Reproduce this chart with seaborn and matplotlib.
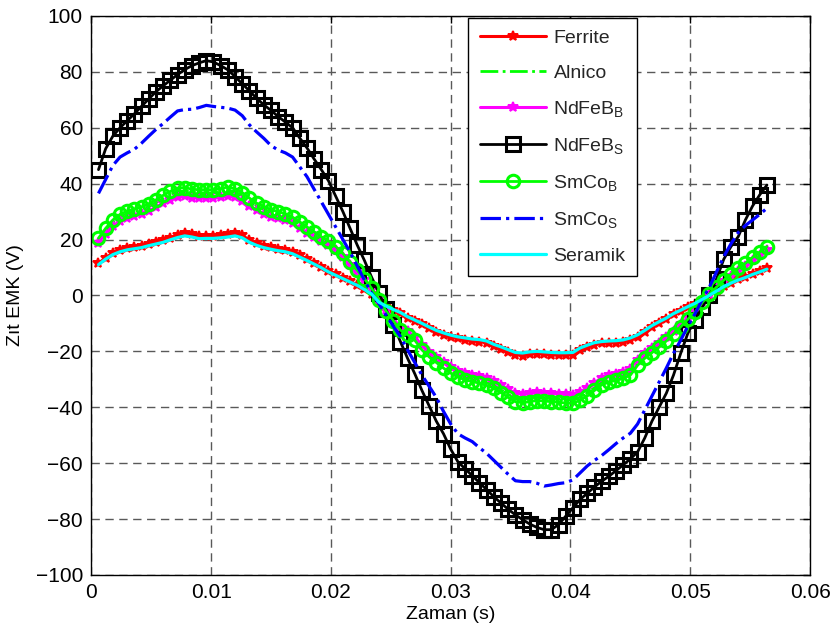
import numpy as np
import pandas as pd
import matplotlib
matplotlib.use("Agg")
import matplotlib.pyplot as plt
import seaborn as sns

# ---------------- data ----------------
time_s = np.linspace(0.0006, 0.0564, 94)

ferrite = [11.5, 13.5, 15.2, 16.3, 17, 17.4, 17.8, 18.5, 19.2, 19.8,
           20.7, 21.6, 22.2, 21.8, 21.1, 21.2, 21.3, 21.5, 21.8, 22.2,
           21.5, 19.8, 18.6, 17.8, 17.2, 16.7, 16.3, 15.5, 14.3, 13,
           11.7, 10.3, 8.8, 7.5, 6.2, 5, 3.8, 2.2, 0.5, -2.5,
           -4, -5.2, -6.4, -7.9, -9.2, -10.4, -11.8, -13, -14, -14.8,
           -15.4, -15.8, -16.2, -16.5, -17, -18.2, -19.2, -20.2, -21.2, -21.5,
           -21, -20.8, -21, -21.3, -21.4, -21.4, -21.2, -19.6, -18.5, -17.6,
           -17.2, -17, -16.9, -16.6, -15.8, -14.7, -13, -11.3, -9.8, -8.4,
           -6.8, -5.5, -4.2, -2.9, -1.5, 0, 1.7, 3.3, 4.6, 5.7,
           6.7, 7.8, 8.8, 9.8]

alnico = [19.9, 23.3, 26.2, 28.1, 29.3, 30.1, 30.7, 31.8, 33.2, 34.7,
          36.1, 37.2, 37.4, 36.9, 36.7, 36.7, 36.7, 37.1, 37.6, 37.1,
          35.7, 33.8, 32, 30.8, 29.8, 29.1, 28.3, 27.2, 25.5, 23.8,
          22.1, 20.4, 18.9, 17, 14.6, 11.6, 8.7, 5.8, 2.4, -1.5,
          -5.3, -8.7, -12, -13.6, -15.5, -18.9, -21.3, -23.3, -25.2, -27,
          -28.3, -29.3, -29.9, -30.5, -31.2, -32.2, -33.8, -35.4, -36.9, -37.2,
          -36.9, -36.5, -36.7, -36.9, -37.1, -37.3, -37.4, -36.4, -34.9, -33,
          -31, -30.1, -29.5, -28.8, -27.6, -24.3, -21.8, -19.9, -17.9, -15.8,
          -13.4, -10.9, -8.2, -5.8, -2.4, 0.5, 2.9, 5.3, 7.3, 9.4,
          11.2, 13.2, 15, 17]

ndfeb_b = [18.9, 22.1, 24.8, 26.7, 27.8, 28.5, 29.2, 30.2, 31.5, 32.9,
           34.2, 35.3, 35.5, 35, 34.8, 34.8, 34.8, 35.1, 35.7, 35.1,
           33.9, 32, 30.4, 29.3, 28.2, 27.6, 26.9, 25.8, 24.2, 22.5,
           21, 19.3, 17.9, 16.1, 13.8, 11, 8.3, 5.5, 2.3, -1.4,
           -5.1, -8.3, -11.4, -12.9, -14.7, -17.9, -20.2, -22.1, -23.9, -25.6,
           -26.9, -27.8, -28.3, -28.9, -29.6, -30.5, -32, -33.6, -35, -35.3,
           -35, -34.6, -34.8, -35, -35.1, -35.4, -35.5, -34.5, -33.1, -31.3,
           -29.4, -28.5, -28, -27.3, -26.2, -23, -20.7, -18.9, -17, -15,
           -12.7, -10.3, -7.8, -5.5, -2.3, 0.5, 2.8, 5.1, 6.9, 8.9,
           10.6, 12.5, 14.3, 16.1]

ndfeb_s = [45, 52.5, 57, 60, 62.5, 65, 67.7, 70.3, 72.9, 75,
           77, 79, 80.8, 82.2, 83.2, 84, 83.5, 82.2, 80.7, 78.3,
           75.7, 73.2, 70.5, 68.2, 66.2, 64, 62, 60, 56.3, 52.8,
           48.8, 45, 41, 35.5, 30, 24, 18, 12.5, 6.5, 1,
           -5, -10.5, -16.5, -22.5, -28, -34, -39.5, -45, -49.5, -55,
           -59.5, -62, -64.5, -67, -69.5, -72, -74.3, -76.5, -78.5, -80.2,
           -81.8, -83, -83.8, -83.8, -82, -79, -76, -73, -70.8, -68.5,
           -66.5, -64.7, -62.7, -60.6, -58.5, -56, -51, -45, -40, -35,
           -28.5, -20.7, -13.5, -8.8, -4.2, 0.2, 6, 13, 17.5, 21,
           27, 32, 36, 39.5]

smco_b = [20.5, 24, 27, 29, 30.2, 31, 31.7, 32.8, 34.2, 35.8,
          37.2, 38.4, 38.6, 38, 37.8, 37.8, 37.8, 38.2, 38.8, 38.2,
          36.8, 34.8, 33, 31.8, 30.7, 30, 29.2, 28, 26.3, 24.5,
          22.8, 21, 19.5, 17.5, 15, 12, 9, 6, 2.5, -1.5,
          -5.5, -9, -12.4, -14, -16, -19.5, -22, -24, -26, -27.8,
          -29.2, -30.2, -30.8, -31.4, -32.2, -33.2, -34.8, -36.5, -38, -38.4,
          -38, -37.6, -37.8, -38, -38.2, -38.5, -38.6, -37.5, -36, -34,
          -32, -31, -30.4, -29.7, -28.5, -25, -22.5, -20.5, -18.5, -16.3,
          -13.8, -11.2, -8.5, -6, -2.5, 0.5, 3, 5.5, 7.5, 9.7,
          11.5, 13.6, 15.5, 17.5]

smco_s = [36.5, 41.5, 46.5, 49.5, 51, 52.3, 54.5, 57, 59.4, 61.5,
          63.8, 66, 66.5, 66.6, 67.2, 68, 67.6, 67.3, 67, 66.3,
          64.3, 61, 58.5, 56.2, 53.6, 52, 51, 49.5, 46, 42.5,
          38, 33.5, 29, 24.5, 20, 15.5, 10.5, 5.5, 0.8, -2.8,
          -7, -11, -14.7, -19.5, -24, -28.5, -32.5, -36.5, -41.5, -46,
          -49.5, -51, -52.3, -54.5, -56.5, -59, -61.5, -64, -66.3, -66.6,
          -66.6, -67.2, -68.2, -67.8, -67.3, -67, -66, -63.5, -61, -59,
          -57.3, -55.2, -53, -51, -49.3, -46, -41, -36, -31, -26,
          -20.7, -16, -11, -6.5, -1.5, 3, 8.5, 13.9, 18.5, 22.5,
          25, 27, 29, 31.2]

seramik = [11, 13, 14.6, 15.6, 16.3, 16.7, 17.1, 17.8, 18.4, 19,
           19.9, 20.7, 21.3, 20.9, 20.3, 20.4, 20.4, 20.6, 20.9, 21.3,
           20.6, 19, 17.9, 17.1, 16.5, 16, 15.6, 14.9, 13.7, 12.5,
           11.2, 9.9, 8.4, 7.2, 6, 4.8, 3.6, 2.1, 0.5, -2.4,
           -3.8, -5, -6.1, -7.6, -8.8, -10, -11.3, -12.5, -13.4, -14.2,
           -14.8, -15.2, -15.6, -15.8, -16.3, -17.5, -18.4, -19.4, -20.4, -20.6,
           -20.2, -20, -20.2, -20.4, -20.5, -20.5, -20.4, -18.8, -17.8, -16.9,
           -16.5, -16.3, -16.2, -15.9, -15.2, -14.1, -12.5, -10.8, -9.4, -8.1,
           -6.5, -5.3, -4, -2.8, -1.4, 0, 1.6, 3.2, 4.4, 5.5,
           6.4, 7.5, 8.4, 9.4]

labels = ["Ferrite", "Alnico", r"NdFeB$_\mathregular{B}$", r"NdFeB$_\mathregular{S}$",
          r"SmCo$_\mathregular{B}$", r"SmCo$_\mathregular{S}$", "Seramik"]
x_ticks = [0, 0.01, 0.02, 0.03, 0.04, 0.05, 0.06]
x_ticklabels = ["0", "0.01", "0.02", "0.03", "0.04", "0.05", "0.06"]
y_ticks = [-100, -80, -60, -40, -20, 0, 20, 40, 60, 80, 100]

# ---------------- style ----------------
sns.set_theme(style="white")
plt.rcParams["font.family"] = ["Liberation Sans", "DejaVu Sans"]
plt.rcParams["mathtext.fontset"] = "custom"
plt.rcParams["mathtext.rm"] = "Liberation Sans"
plt.rcParams["mathtext.it"] = "Liberation Sans"

fig = plt.figure(figsize=(8.3, 6.36), dpi=100)
ax = fig.add_axes([0.110, 0.096, 0.866, 0.879])

series = [ferrite, alnico, ndfeb_b, ndfeb_s, smco_b, smco_s, seramik]
styles = [
    dict(color="#ff0000", linestyle="-", linewidth=2.2, marker="*", markersize=7,
         markeredgewidth=1.4, markeredgecolor="#ff0000", markerfacecolor="#ff0000"),
    dict(color="#00ff00", linestyle="-.", linewidth=2.0),
    dict(color="#ff00ff", linestyle="-", linewidth=2.2, marker="*", markersize=7,
         markeredgewidth=1.4, markeredgecolor="#ff00ff", markerfacecolor="#ff00ff"),
    dict(color="black", linestyle="-", linewidth=2.0, marker="s", markersize=10.5,
         markerfacecolor="none", markeredgecolor="black", markeredgewidth=2.2),
    dict(color="#00ff00", linestyle="-", linewidth=2.0, marker="o", markersize=9,
         markerfacecolor="none", markeredgecolor="#00ff00", markeredgewidth=2.2),
    dict(color="#0000ff", linestyle="-.", linewidth=2.3),
    dict(color="#00ffff", linestyle="-", linewidth=2.3),
]

for vals, lab, st in zip(series, labels, styles):
    df = pd.DataFrame({"t": time_s, "v": vals})
    sns.lineplot(data=df, x="t", y="v", ax=ax, label=lab, errorbar=None,
                 sort=False, **st)

ax.set_xlim(0, 0.06)
ax.set_ylim(-100, 100)
ax.set_xticks(x_ticks)
ax.set_xticklabels(x_ticklabels)
ax.set_yticks(y_ticks)
ax.tick_params(axis="both", which="both", direction="in", length=5, width=1,
               top=True, right=True, labelsize=15, colors="black", pad=6)
for s in ax.spines.values():
    s.set_color("black")
    s.set_linewidth(1.0)

ax.grid(True, linestyle=(0, (6, 4)), color="0.35", linewidth=1.0)
ax.set_axisbelow(True)

ax.set_xlabel("Zaman (s)", fontsize=14, color="black", labelpad=3)
ax.set_ylabel("Zıt EMK (V)", fontsize=14, color="black", labelpad=8)

leg = ax.legend(loc="upper left", bbox_to_anchor=(0.524, 0.997), borderaxespad=0,
                fontsize=14, frameon=True, fancybox=False, framealpha=1,
                edgecolor="black", handlelength=3.4, labelspacing=0.88,
                borderpad=0.6, handletextpad=0.4)
leg.get_frame().set_linewidth(1.0)

fig.savefig("out.png", dpi=100, facecolor="white")
